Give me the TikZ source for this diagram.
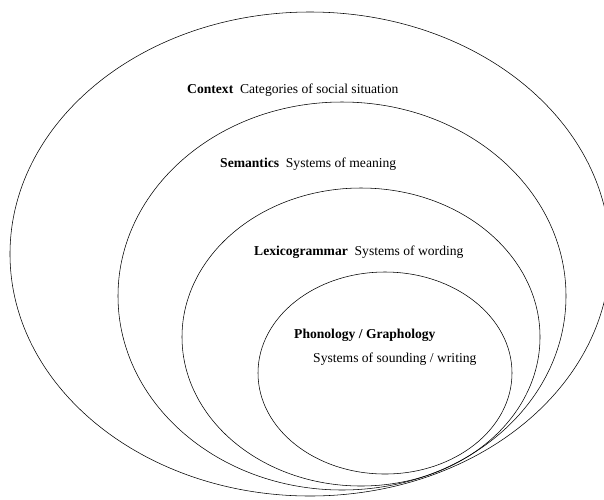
\documentclass[tikz,border=0pt]{standalone}
\usepackage{fontspec}
\setmainfont{Liberation Serif}
\tikzset{
	label text/.style = {anchor = base west, inner sep = 0pt, font = \fontsize{13.6}{16}\selectfont},
	ring/.style = {line width = 0.55pt}
}
\begin{document}
\begin{tikzpicture} [x = 1pt, y = -1pt]
	\useasboundingbox (0,0) rectangle (604,499);
	\draw [ring] (310,254) ellipse (300 and 242);
	\draw [ring] (342,296) ellipse (224 and 194);
	\draw [ring] (361,337) ellipse (179 and 149);
	\draw [ring] (385,373) ellipse (127 and 101);
	\node [label text] (context) at (187,93) {\textbf{Context}\ \ Categories of social situation};
	\node [label text] (semantics) at (220,167) {\textbf{Semantics}\ \ Systems of meaning};
	\node [label text] (lexgram) at (254,255) {\textbf{Lexicogrammar}\ \ Systems of wording};
	\node [label text] (phonology) at (294,338) {\textbf{Phonology / Graphology}};
	\node [label text] (sounding) at (313,362) {Systems of sounding / writing};
\end{tikzpicture}
\end{document}
